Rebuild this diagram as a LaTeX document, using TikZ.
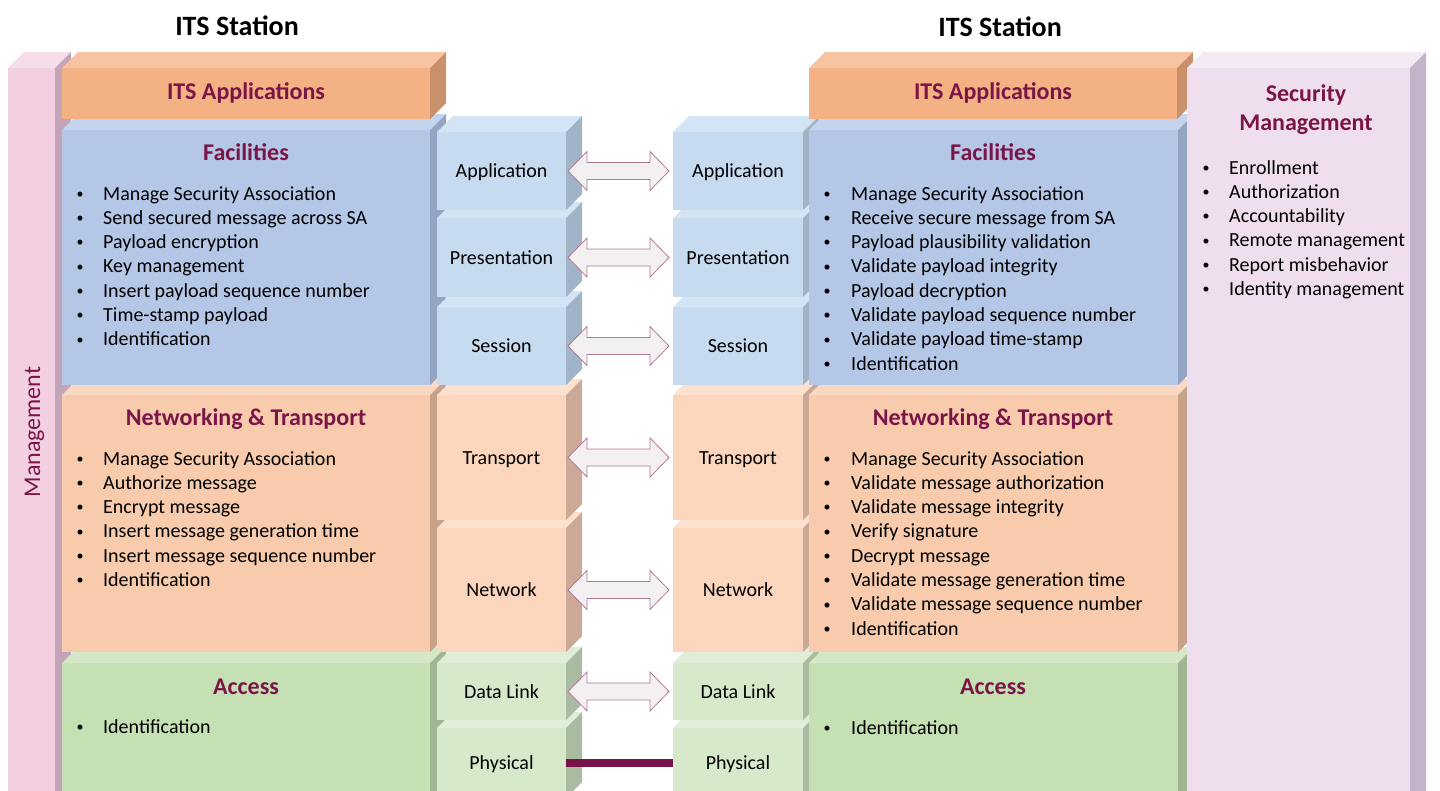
\documentclass[tikz,border=0pt]{standalone}
\usepackage{fontspec}
\setmainfont{Carlito}
\usetikzlibrary{calc}
\definecolor{ttlc}{HTML}{7A1548}
\definecolor{mgF}{HTML}{F2D0E2}\definecolor{mgT}{HTML}{F6DDEA}\definecolor{mgS}{HTML}{C4A4B8}
\definecolor{apF}{HTML}{F4B183}\definecolor{apT}{HTML}{F7C3A0}\definecolor{apS}{HTML}{C9916B}
\definecolor{fcF}{HTML}{B4C7E7}\definecolor{fcT}{HTML}{C5D4EE}\definecolor{fcS}{HTML}{93A5C2}
\definecolor{obF}{HTML}{C6DBF0}\definecolor{obT}{HTML}{D3E4F4}\definecolor{obS}{HTML}{A0B3C7}
\definecolor{ntF}{HTML}{F8CBAD}\definecolor{ntT}{HTML}{FAD8C2}\definecolor{ntS}{HTML}{C8A189}
\definecolor{ooF}{HTML}{FBD6BD}\definecolor{ooT}{HTML}{FCE1CF}\definecolor{ooS}{HTML}{CBA996}
\definecolor{acF}{HTML}{C5E0B3}\definecolor{acT}{HTML}{D4E8C7}\definecolor{acS}{HTML}{A0B592}
\definecolor{ogF}{HTML}{D6E9CB}\definecolor{ogT}{HTML}{E0EED8}\definecolor{ogS}{HTML}{A9BBA0}
\definecolor{scF}{HTML}{EFDFEE}\definecolor{scT}{HTML}{F4EAF4}\definecolor{scS}{HTML}{C2B3C8}
\definecolor{arrc}{HTML}{B07A95}\definecolor{arrf}{HTML}{F3F0F2}
\definecolor{physc}{HTML}{78124A}
\tikzset{
  facestyle/.style={draw=none, inner sep=0pt, outer sep=0pt},
  lyrbox/.style={facestyle, anchor=north west},
  osibox/.style={facestyle, text height=13pt, text depth=0pt, font=\fontsize{20}{24}\selectfont},
  ttl/.style={anchor=base, inner sep=0pt, text=ttlc, font=\fontsize{24}{29}\selectfont\bfseries},
  hdr/.style={anchor=base, inner sep=0pt, font=\fontsize{28}{34}\selectfont\bfseries},
  bul/.style={anchor=base west, inner sep=0pt, font=\fontsize{20}{24}\selectfont},
  blk/.style={draw=arrc, fill=arrf, line width=0.8pt, line join=miter},
  physline/.style={draw=physc, line width=8pt}
}
\newcommand\boxfaces[3]{%
  \fill[#2] (#1.north west) -- ++(16,-16) -- ($(#1.north east)+(16,-16)$) -- (#1.north east) -- cycle;
  \fill[#3] (#1.north east) -- ++(16,-16) -- ($(#1.south east)+(16,-16)$) -- (#1.south east) -- cycle;
}
\newcommand\smallbul{\makebox[0pt][c]{\raisebox{1.8pt}{\fontsize{14}{14}\selectfont\textbullet}}}
\newcommand\blist[5]{%
  \foreach \t [count=\i] in {#5} {
    \node[bul] (#1\i) at (#2,{#3+(\i-1)*24.33}) {\smallbul\hspace{#4}\t};
  }
}
\newcommand\dblarrow[2]{%
  \path[blk] (#1) -- ($(#1)+(19,-19.5)$) -- ($(#1)+(19,-8.5)$) -- ($(#2)+(-19,-8.5)$) -- ($(#2)+(-19,-19.5)$)
    -- (#2) -- ($(#2)+(-19,19.5)$) -- ($(#2)+(-19,8.5)$) -- ($(#1)+(19,8.5)$) -- ($(#1)+(19,19.5)$) -- cycle;
}
\begin{document}
\begin{tikzpicture}[x=1pt,y=-1pt]
\useasboundingbox (0,0) rectangle (1440,790);
\fill[white] (0,0) rectangle (1440,790);
\clip (0,0) rectangle (1440,790);

% Management bar
\node[lyrbox, fill=mgF, minimum width=47pt, minimum height=740pt] (mgmt) at (8,68) {};
\boxfaces{mgmt}{mgT}{mgS}

% Left layers
\node[lyrbox, fill=acF, minimum width=368pt, minimum height=140pt] (lAcc) at (62,663) {};
\boxfaces{lAcc}{acT}{acS}
\node[lyrbox, fill=ntF, minimum width=368pt, minimum height=257pt] (lNet) at (62,395) {};
\boxfaces{lNet}{ntT}{ntS}
\node[lyrbox, fill=fcF, minimum width=368pt, minimum height=255pt] (lFac) at (62,130) {};
\boxfaces{lFac}{fcT}{fcS}
\node[lyrbox, fill=apF, minimum width=368pt, minimum height=51pt] (lApp) at (62,68) {};
\boxfaces{lApp}{apT}{apS}

% Left OSI column
\node[osibox, fill=ogF, minimum width=129pt, minimum height=70pt] (lPhy) at (501.5,763) {Physical};
\boxfaces{lPhy}{ogT}{ogS}
\node[osibox, fill=ogF, minimum width=129pt, minimum height=57pt] (lDl) at (501.5,691.5) {Data Link};
\boxfaces{lDl}{ogT}{ogS}
\node[osibox, fill=ooF, minimum width=129pt, minimum height=124pt] (lNw) at (501.5,590) {Network};
\boxfaces{lNw}{ooT}{ooS}
\node[osibox, fill=ooF, minimum width=129pt, minimum height=125pt] (lTr) at (501.5,457.5) {Transport};
\boxfaces{lTr}{ooT}{ooS}
\node[osibox, fill=obF, minimum width=129pt, minimum height=78pt] (lSe) at (501.5,346) {Session};
\boxfaces{lSe}{obT}{obS}
\node[osibox, fill=obF, minimum width=129pt, minimum height=79pt] (lPr) at (501.5,257.5) {Presentation};
\boxfaces{lPr}{obT}{obS}
\node[osibox, fill=obF, minimum width=129pt, minimum height=78pt] (lAp) at (501.5,171) {Application};
\boxfaces{lAp}{obT}{obS}

% Right OSI column
\node[osibox, fill=ogF, minimum width=130pt, minimum height=70pt] (rPhy) at (738,763) {Physical};
\boxfaces{rPhy}{ogT}{ogS}
\node[osibox, fill=ogF, minimum width=130pt, minimum height=57pt] (rDl) at (738,691.5) {Data Link};
\boxfaces{rDl}{ogT}{ogS}
\node[osibox, fill=ooF, minimum width=130pt, minimum height=124pt] (rNw) at (738,590) {Network};
\boxfaces{rNw}{ooT}{ooS}
\node[osibox, fill=ooF, minimum width=130pt, minimum height=125pt] (rTr) at (738,457.5) {Transport};
\boxfaces{rTr}{ooT}{ooS}
\node[osibox, fill=obF, minimum width=130pt, minimum height=78pt] (rSe) at (738,346) {Session};
\boxfaces{rSe}{obT}{obS}
\node[osibox, fill=obF, minimum width=130pt, minimum height=79pt] (rPr) at (738,257.5) {Presentation};
\boxfaces{rPr}{obT}{obS}
\node[osibox, fill=obF, minimum width=130pt, minimum height=78pt] (rAp) at (738,171) {Application};
\boxfaces{rAp}{obT}{obS}

% Right layers
\node[lyrbox, fill=acF, minimum width=369pt, minimum height=140pt] (rAcc) at (809,663) {};
\boxfaces{rAcc}{acT}{acS}
\node[lyrbox, fill=ntF, minimum width=369pt, minimum height=257pt] (rNet) at (809,395) {};
\boxfaces{rNet}{ntT}{ntS}
\node[lyrbox, fill=fcF, minimum width=369pt, minimum height=255pt] (rFac) at (809,130) {};
\boxfaces{rFac}{fcT}{fcS}
\node[lyrbox, fill=apF, minimum width=368pt, minimum height=51pt] (rApp) at (809,68) {};
\boxfaces{rApp}{apT}{apS}

% Security management
\node[lyrbox, fill=scF, minimum width=223pt, minimum height=740pt] (sec) at (1187,68) {};
\boxfaces{sec}{scT}{scS}

% Headers
\node[hdr] (hL) at (237,35) {ITS Station};
\node[hdr] (hR) at (1000,36) {ITS Station};

% Titles
\node[ttl, rotate=90, font=\fontsize{24}{29}\selectfont] (mgmtTxt) at (40,432) {Management};
\node[ttl] (tLApp) at (246,99) {ITS Applications};
\node[ttl] (tLFac) at (246,160) {Facilities};
\node[ttl] (tLNet) at (246,425) {Networking \& Transport};
\node[ttl] (tLAcc) at (246,694) {Access};
\node[ttl] (tRApp) at (993,99) {ITS Applications};
\node[ttl] (tRFac) at (993,160) {Facilities};
\node[ttl] (tRNet) at (993,425) {Networking \& Transport};
\node[ttl] (tRAcc) at (993,694) {Access};
\node[ttl] (tSec1) at (1306,101) {Security};
\node[ttl] (tSec2) at (1306,130) {Management};

% Bullet lists
\blist{lf}{80}{200}{23pt}{Manage Security Association,
Send secured message across SA,
Payload encryption,
Key management,
Insert payload sequence number,
Time-stamp payload,
Identification}
\blist{ln}{80}{465}{23pt}{Manage Security Association,
Authorize message,
Encrypt message,
Insert message generation time,
Insert message sequence number,
Identification}
\blist{la}{80}{733}{23pt}{Identification}
\blist{rf}{827}{200}{24pt}{Manage Security Association,
Receive secure message from SA,
Payload plausibility validation,
Validate payload integrity,
Payload decryption,
Validate payload sequence number,
Validate payload time-stamp,
Identification}
\blist{rn}{827}{465}{24pt}{Manage Security Association,
Validate message authorization,
Validate message integrity,
Verify signature,
Decrypt message,
Validate message generation time,
Validate message sequence number,
Identification}
\blist{ra}{827}{734}{24pt}{Identification}
\blist{sm}{1206}{174}{23pt}{Enrollment,
Authorization,
Accountability,
Remote management,
Report misbehavior,
Identity management}

% Connectors
\coordinate (a1) at ($(lAp.east)+(2,0)$); \coordinate (b1) at ($(rAp.west)+(-4,0)$);
\dblarrow{a1}{b1}
\coordinate (a2) at ($(lPr.east)+(2,0)$); \coordinate (b2) at ($(rPr.west)+(-4,0)$);
\dblarrow{a2}{b2}
\coordinate (a3) at ($(lSe.east)+(2,0)$); \coordinate (b3) at ($(rSe.west)+(-4,0)$);
\dblarrow{a3}{b3}
\coordinate (a4) at ($(lTr.east)+(2,0)$); \coordinate (b4) at ($(rTr.west)+(-4,0)$);
\dblarrow{a4}{b4}
\coordinate (a5) at ($(lNw.east)+(2,0)$); \coordinate (b5) at ($(rNw.west)+(-4,0)$);
\dblarrow{a5}{b5}
\coordinate (a6) at ($(lDl.east)+(2,0)$); \coordinate (b6) at ($(rDl.west)+(-4,0)$);
\dblarrow{a6}{b6}
\draw[physline] (lPhy.east) -- (rPhy.west);
\end{tikzpicture}
\end{document}
